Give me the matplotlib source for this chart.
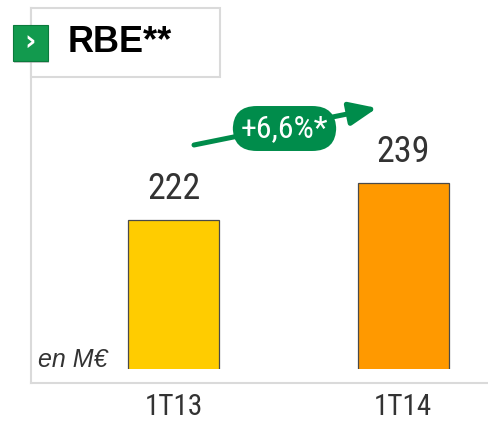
import matplotlib
matplotlib.use("Agg")
import matplotlib.pyplot as plt
from matplotlib.patches import Rectangle, FancyBboxPatch
from matplotlib.lines import Line2D

W, H = 488, 422

categories = ["1T13", "1T14"]
values = [222, 239]
bar_colors = ["#FFCC00", "#FF9900"]
growth_label = "+6,6%*"
title = "RBE**"
unit_label = "en M€"

narrow = ["Roboto Condensed", "DejaVu Sans"]
green = "#008C4B"
frame_gray = "#DADADA"
text_gray = "#333333"


def px(x, y):
    # pixel coords (top-left origin) -> figure fraction
    return x / W, 1 - y / H


fig = plt.figure(figsize=(W / 100, H / 100), dpi=100)

# axes area spans from the frame's left edge to the bar baseline
ax = fig.add_axes([31 / W, (H - 369) / H, (W - 31) / W, (369 - 8) / H])
ax.set_xlim(-0.621, 1.370)
ax.set_ylim(153.5, 319.4)

xs = range(len(categories))
bars = ax.bar(xs, values, width=0.397, color=bar_colors,
              edgecolor="#4A4A4A", linewidth=0.9)
for b, v in zip(bars, values):
    ax.annotate(str(v), (b.get_x() + b.get_width() / 2, v),
                xytext=(0, 15), textcoords="offset points",
                ha="center", va="baseline", fontsize=26,
                family=narrow, color=text_gray)

ax.set_xticks(list(xs))
ax.set_xticklabels(categories, fontsize=21, family=narrow, color=text_gray)
ax.tick_params(axis="x", length=0, pad=17)
ax.set_yticks([])
for s in ax.spines.values():
    s.set_visible(False)
ax.patch.set_alpha(0)

# light gray frame
fig.add_artist(Line2D([px(31, 0)[0]] * 2, [px(0, 8)[1], px(0, 383)[1]],
                      color=frame_gray, lw=1.5, zorder=0))
fig.add_artist(Line2D([px(31, 0)[0], 1], [px(0, 383)[1]] * 2,
                      color=frame_gray, lw=1.5, zorder=0))

# title box
x0, y0 = px(31, 77)
x1, y1 = px(220, 8)
fig.add_artist(Rectangle((x0, y0), x1 - x0, y1 - y0, facecolor="white",
                         edgecolor=frame_gray, lw=1.5, zorder=1))
fig.text(*px(68, 43), title, fontsize=26, fontweight="bold",
         family=["Liberation Sans", "DejaVu Sans"], color="black",
         ha="left", va="center", zorder=3)

# green marker with chevron
sx0, sy0 = px(13, 61)
sx1, sy1 = px(48, 25)
fig.add_artist(FancyBboxPatch((sx0 + 0.003, sy0 - 0.004), sx1 - sx0, sy1 - sy0,
                              boxstyle="square,pad=0", facecolor="#999999",
                              edgecolor="none", alpha=0.5, zorder=2))
fig.add_artist(FancyBboxPatch((sx0, sy0), sx1 - sx0, sy1 - sy0,
                              boxstyle="square,pad=0", facecolor="#129A4E",
                              edgecolor="#0B7A3C", lw=0.8, zorder=3))
fig.text(*px(30.5, 42), "›", fontsize=20, fontweight="bold", color="white",
         ha="center", va="center", family=["DejaVu Sans"], zorder=4)

# growth arrow with pill label
ax.annotate("", xy=(377, H - 108), xytext=(194, H - 145),
            xycoords="figure pixels", textcoords="figure pixels",
            arrowprops=dict(arrowstyle="-|>,head_length=1.65,head_width=0.7",
                            mutation_scale=10, color=green, lw=3.6,
                            shrinkA=0, shrinkB=0))
fig.text(*px(284.5, 128.5), growth_label, fontsize=23, family=narrow,
         color="white", ha="center", va="center", zorder=5,
         bbox=dict(boxstyle="round,pad=0.25,rounding_size=0.75",
                   facecolor=green, edgecolor="none"))

# unit note
fig.text(*px(38, 360), unit_label, fontsize=18, style="italic",
         family=["Liberation Sans", "DejaVu Sans"], color=text_gray,
         ha="left", va="center")

fig.savefig("out.png", dpi=100)
